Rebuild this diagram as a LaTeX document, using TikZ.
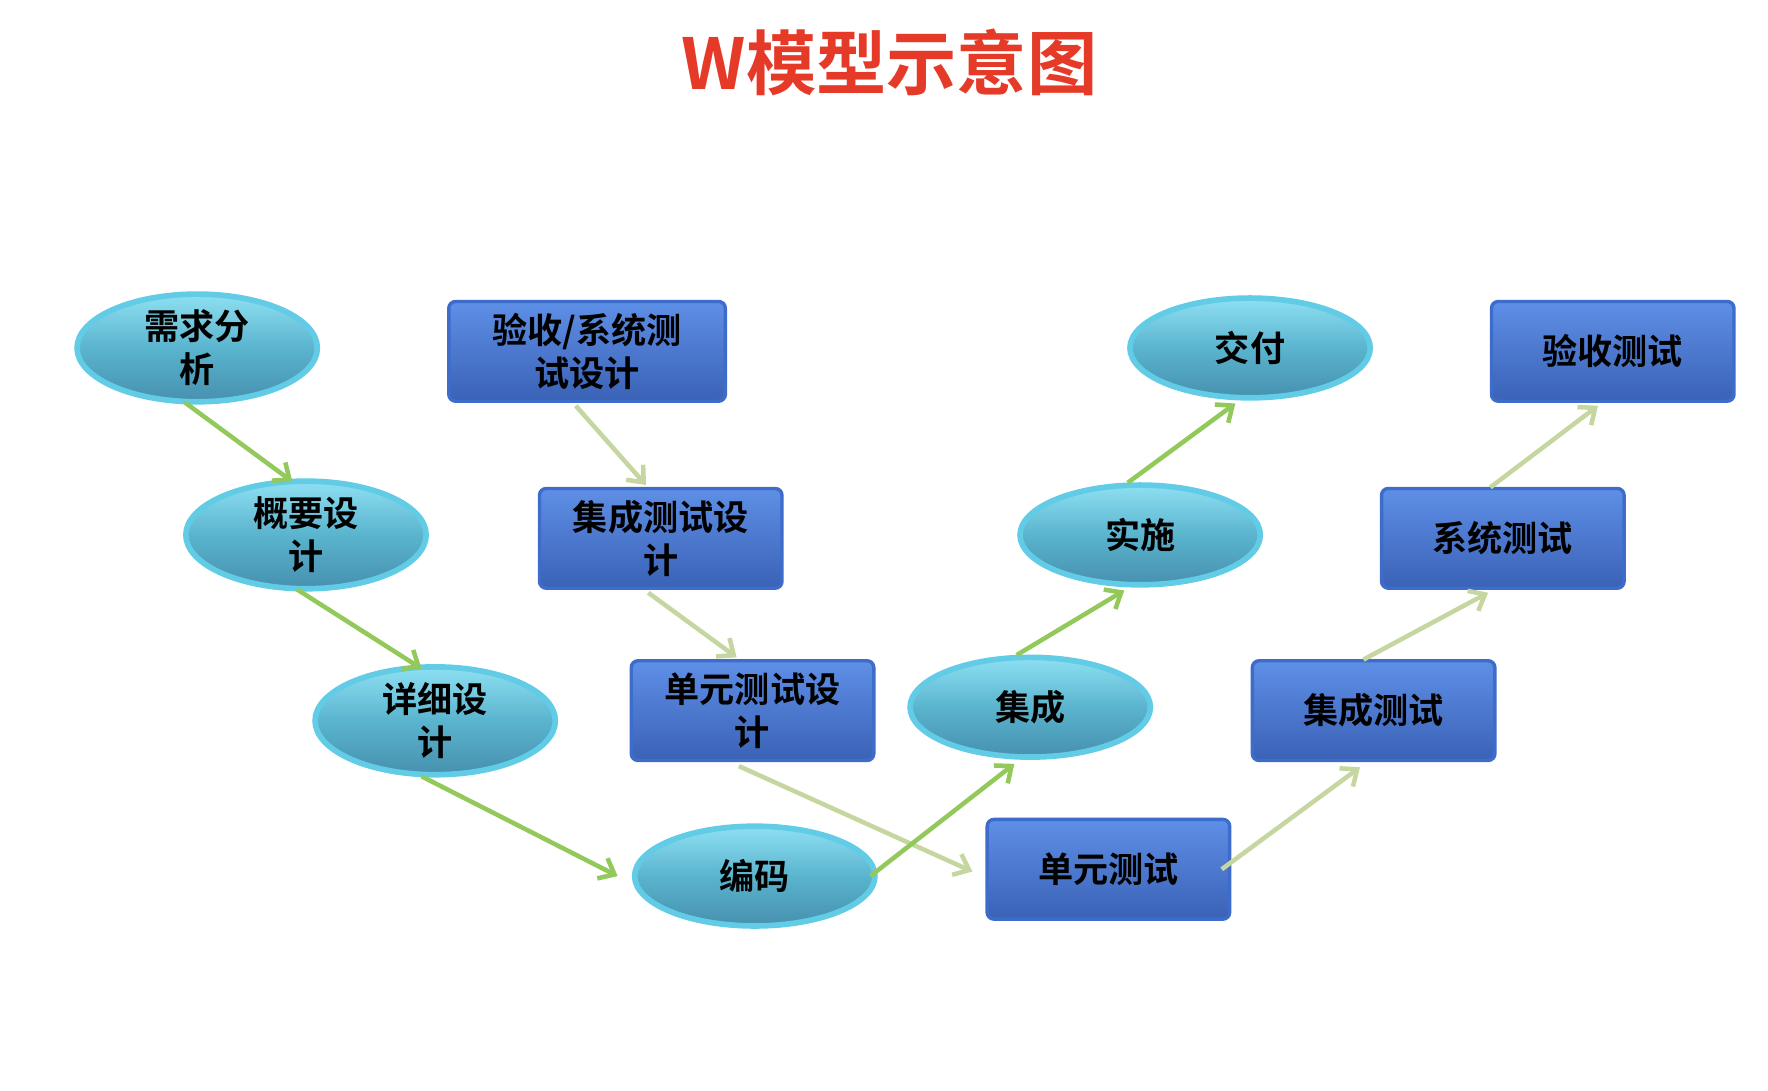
\documentclass[tikz,border=0pt]{standalone}
\usepackage{fontspec}
\setmainfont{Noto Sans CJK SC}
\newfontfamily\cjkb{Noto Sans CJK SC Bold}
\usetikzlibrary{shapes.geometric,arrows.meta}
\definecolor{tred}{HTML}{E63A28}
\definecolor{ga}{HTML}{92C95A}
\definecolor{gb}{HTML}{C5D6A0}
\definecolor{et}{HTML}{8EE0F2}
\definecolor{em}{HTML}{5AB4CE}
\definecolor{eb}{HTML}{4690AE}
\definecolor{er}{HTML}{62CCE6}
\definecolor{bt}{HTML}{5E8FE6}
\definecolor{bb}{HTML}{3A62B6}
\definecolor{bd}{HTML}{3D6CCB}
\tikzset{
 ell/.style={ellipse,minimum width=212pt,minimum height=88pt,draw=er,line width=5pt,
   top color=et,bottom color=eb,middle color=em,
   align=center,font=\cjkb\fontsize{31}{38}\selectfont,inner sep=0pt},
 box/.style={rectangle,rounded corners=6pt,minimum width=214pt,minimum height=88pt,draw=bd,line width=3pt,
   top color=bt,bottom color=bb,
   align=center,font=\cjkb\fontsize{31}{38}\selectfont,inner sep=0pt},
 ga/.style={draw=ga,line width=4pt,-{Straight Barb[length=12pt,width=20pt]}},
 gb/.style={draw=gb,line width=4pt,-{Straight Barb[length=12pt,width=20pt]}},
}
\begin{document}
\begin{tikzpicture}[x=1pt,y=-1pt]
\useasboundingbox (0,0) rectangle (1560,962);
\node[font=\cjkb\fontsize{62}{62}\selectfont,text=tred] (t) at (785,55) {W模型示意图};
\node[ell] (e1) at (174,307) {需求分\\析};
\node[ell] (e2) at (270,472) {概要设\\计};
\node[ell] (e3) at (384,636) {详细设\\计};
\node[ell] (e4) at (666,773) {编码};
\node[ell] (e5) at (909,624) {集成};
\node[ell] (e6) at (1006,472) {实施};
\node[ell] (e7) at (1103,307) {交付};
\node[box,minimum width=244pt] (b1) at (518,310) {验收/系统测\\试设计};
\node[box] (b2) at (583,475) {集成测试设\\计};
\node[box] (b3) at (664,627) {单元测试设\\计};
\node[box] (b4) at (978,767) {单元测试};
\node[box] (b5) at (1212,627) {集成测试};
\node[box] (b6) at (1326,475) {系统测试};
\node[box] (b7) at (1423,310) {验收测试};
\path (163,355) coordinate (a1s) (258,425) coordinate (a1e)
 (262,520) coordinate (a2s) (372,590) coordinate (a2e)
 (372,685) coordinate (a3s) (545,773) coordinate (a3e)
 (768,773) coordinate (a4s) (895,674) coordinate (a4e)
 (897,578) coordinate (a5s) (992,521) coordinate (a5e)
 (995,426) coordinate (a6s) (1090,356) coordinate (a6e)
 (508,358) coordinate (c1s) (570,428) coordinate (c1e)
 (572,523) coordinate (c2s) (650,580) coordinate (c2e)
 (652,676) coordinate (c3s) (858,769) coordinate (c3e)
 (1078,767) coordinate (c4s) (1200,677) coordinate (c4e)
 (1203,582) coordinate (c5s) (1313,523) coordinate (c5e)
 (1315,430) coordinate (c6s) (1410,358) coordinate (c6e);
\foreach \i in {1,...,6}{\draw[ga] (a\i s) -- (a\i e); \draw[gb] (c\i s) -- (c\i e);}
\end{tikzpicture}
\end{document}
